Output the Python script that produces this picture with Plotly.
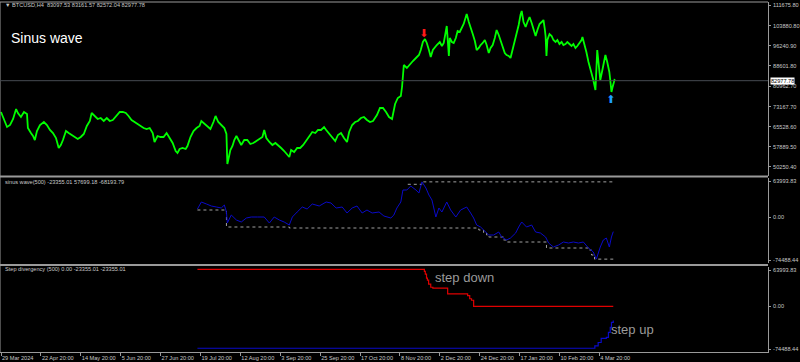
import plotly.graph_objects as go

# ---------------- data ----------------
tick_bars = [0, 132, 264, 396, 528, 660, 792, 924, 1056, 1188, 1320, 1452, 1584, 1716, 1848, 1980]
tick_labels = ["29 Mar 2024", "22 Apr 20:00", "14 May 20:00", "5 Jun 20:00", "27 Jun 20:00",
               "19 Jul 20:00", "12 Aug 20:00", "3 Sep 20:00", "25 Sep 20:00", "17 Oct 20:00",
               "8 Nov 20:00", "2 Dec 20:00", "24 Dec 20:00", "17 Jan 20:00", "10 Feb 20:00",
               "4 Mar 20:00"]

price_ticks = [111675.80, 103880.80, 96240.90, 88601.80, 80962.70, 73167.70, 65528.60, 57889.50, 50250.40]
ind_max = 63993.83
ind_min = -74488.44
ind_tick_labels = ["63993.83", "0.00", "-74488.44"]

price_bars = [0,13,20,30,40,50,56,66,76,86,
 89,99,106,112,119,129,142,152,162,172,
 182,191,198,205,215,224,234,244,254,264,
 274,284,294,300,310,320,330,340,350,360,
 370,383,393,403,413,422,432,442,452,462,
 472,482,492,502,508,518,528,538,548,558,
 568,578,584,591,601,611,617,627,637,647,
 657,663,673,683,693,703,710,719,729,739,
 746,749,752,759,766,772,779,789,795,805,
 815,825,835,845,855,865,871,878,888,898,
 908,917,927,937,947,954,960,970,980,990,
 1000,1010,1020,1030,1040,1049,1059,1069,1076,1086,
 1096,1106,1115,1125,1135,1145,1152,1162,1172,1181,
 1191,1201,1211,1221,1231,1244,1254,1264,1274,1284,
 1294,1304,1313,1323,1327,1333,1343,1353,1363,1373,
 1383,1389,1396,1403,1409,1416,1422,1429,1436,1442,
 1452,1459,1465,1472,1475,1482,1485,1492,1498,1505,
 1511,1518,1525,1531,1538,1541,1548,1554,1561,1568,
 1574,1581,1587,1594,1601,1607,1614,1620,1627,1634,
 1640,1647,1653,1660,1667,1673,1680,1686,1693,1700,
 1706,1713,1719,1723,1729,1736,1742,1749,1756,1762,
 1769,1775,1782,1789,1795,1799,1802,1805,1808,1815,
 1822,1828,1835,1841,1848,1855,1861,1868,1874,1881,
 1888,1894,1901,1907,1914,1921,1924,1931,1937,1944,
 1950,1957,1960,1967,1970,1973,1977,1983,1990,1997,
 2000,2006,2013,2016,2020,2023,2030,2033]

price_vals = [71100,67310,65410,66170,68450,72240,70720,69210,71100,70340,
 65030,63140,62000,60480,63900,66170,67310,66170,64280,63140,
 61240,57450,58590,60480,63900,63140,62380,61620,60860,61620,
 62760,65790,67690,70720,69590,68450,68830,67690,68830,67690,
 68070,69960,71100,71100,70720,69590,68070,67310,66550,65790,
 65030,64660,65030,63140,59730,62000,61620,61620,63140,61240,
 59350,56310,55550,57070,57450,57070,58210,61620,63900,65030,
 65790,67690,66550,65790,64660,67310,69590,67310,66170,65030,
 62760,51380,52900,56690,58210,60480,62000,60100,58590,60480,
 60480,58970,59350,60100,60860,61620,64280,61240,59730,58590,
 59350,58590,57450,56310,54800,54040,56690,55930,57450,57450,
 58590,60100,62000,63520,63140,64280,64280,65410,64280,62760,
 61240,60100,62380,63140,61240,59730,63520,66170,67310,67690,
 68830,69210,68070,67310,67690,69960,72620,72620,71100,69210,
 68450,74140,76410,77170,80580,88920,87790,89300,90440,91580,
 92720,94610,97650,98780,97270,94610,91960,94610,95750,96510,
 97650,96130,97270,102200,103710,92340,99160,97650,97270,99160,
 101820,101440,102950,104470,107130,108260,105230,103330,100680,98030,
 94610,95370,96510,97270,98400,96510,93470,95370,96510,99160,
 102200,100300,98400,95370,93470,92720,92340,91580,94610,98400,
 100300,104090,107880,109400,105230,103330,105230,107130,104850,102950,
 99920,102200,104470,105230,105990,102950,99920,92340,98400,100680,
 99920,98400,97650,98400,96890,97650,96510,96890,97650,96890,
 96130,96890,95370,96130,97270,98400,99540,96890,93850,90060,
 87790,85130,83240,79440,90060,94610,90060,83240,87030,90820,
 92720,90060,86270,83240,78690,80200,83240,82978]

last_price = 82977.78
sell_bars = [1399]
sell_prices = [100680]
buy_bars = [2018]
buy_prices = [75650]

sinus_bars = [650,663,680,696,713,729,739,746,749,762,779,795,812,828,848,871,888,904,921,937,
 954,964,980,997,1013,1030,1053,1076,1092,1109,1129,1145,1162,1178,1195,1211,1228,1251,1267,1290,
 1300,1310,1323,1330,1343,1356,1373,1383,1393,1406,1416,1426,1439,1449,1459,1475,1488,1505,1521,1541,
 1554,1564,1574,1587,1597,1614,1630,1647,1657,1673,1686,1703,1713,1723,1739,1756,1769,1785,1802,1812,
 1828,1845,1861,1878,1894,1911,1927,1944,1960,1970,1983,1993,2003,2013,2020,2026]
sinus_vals = [13490,24890,21640,18380,16750,15120,20010,8600,-9320,3710,-4430,-7690,-1170,460,460,460,-9320,460,-4430,-7690,
 -12580,460,8600,16750,13490,21640,18380,24890,23260,15120,16750,6970,15120,18380,6970,11860,6970,8600,2090,-1170,
 3710,15120,24890,44440,44440,50960,44440,39560,57699,47700,36300,28150,460,15120,8600,24890,11860,460,11860,16750,
 6970,-1170,-12580,-15840,-20720,-28870,-28870,-23980,-32130,-37020,-33760,-25610,-15840,-7690,-15840,-12580,-23980,-25610,-32130,-41900,
 -48420,-45160,-40270,-41900,-40270,-41900,-40270,-50050,-56570,-68190,-48420,-37020,-33760,-48420,-32130,-23355.01]

low_bars = [650, 746, 954, 1581, 1597, 1607, 1614, 1663, 1673, 1805, 1944, 1954, 1964, 2026]
low_vals = [11860, -15840, -17470, -20720, -25610, -28870, -32130, -37020, -40270, -50050, -53300, -61440, -68193.79, -68193.79]
high_bars = [1346, 1393, 2026]
high_vals = [53730, 57699.18, 57699.18]

down_bars = [650, 1401, 1404, 1408, 1411, 1415, 1422, 1429, 1478, 1544, 1551, 1557, 1564, 2026]
down_vals = [60150, 57000, 52450, 46000, 42610, 36060, 31000, 29500, 20160, 17210, 12290, 9830, 0.0, 0.0]
up_bars = [650, 1960, 1965, 1976, 1986, 2003, 2010, 2016, 2020, 2026]
up_vals = [-68350, -68350, -64410, -59000, -52450, -50810, -42610, -34420, -26220, -23355.01]

# ---------------- layout helpers ----------------
W, H = 800, 362
ML, MR, MT, MB = 0, 29, 2, 10
PW, PH = W - ML - MR, H - MT - MB


def fx(px):
    return (px - ML) / PW


def fy(py):
    return (H - MB - py) / PH


GRAY = "#9a9a9a"
TXT = "#c8c8c8"
SMALL = dict(family="Liberation Sans, Arial", size=5.6, color=TXT)

# indicator panels: max/min labels drawn just inside the panel edge (MetaTrader style)
ind_span = ind_max - ind_min
inset = ind_span * 3.0 / 85.0
ind_tick_pos = [ind_max - inset, 0.0, ind_min + inset]

fig = go.Figure()
fig.add_trace(go.Scatter(x=price_bars, y=price_vals, mode="lines",
                         line=dict(color="#00ff00", width=1.8), yaxis="y"))
fig.add_trace(go.Scatter(x=sell_bars, y=sell_prices, mode="text", text=["⬇"],
                         textfont=dict(color="#ff1a1a", size=11, family="DejaVu Sans"), yaxis="y"))
fig.add_trace(go.Scatter(x=buy_bars, y=buy_prices, mode="text", text=["⬆"],
                         textfont=dict(color="#1ea0ff", size=11, family="DejaVu Sans"), yaxis="y"))

fig.add_trace(go.Scatter(x=low_bars, y=low_vals, mode="lines", line_shape="hv",
                         line=dict(color="#a0a0a0", width=1, dash="dot"), yaxis="y2"))
fig.add_trace(go.Scatter(x=high_bars, y=high_vals, mode="lines", line_shape="hv",
                         line=dict(color="#a0a0a0", width=1, dash="dot"), yaxis="y2"))
fig.add_trace(go.Scatter(x=sinus_bars, y=sinus_vals, mode="lines",
                         line=dict(color="#0a0ac8", width=1), yaxis="y2"))

fig.add_trace(go.Scatter(x=down_bars, y=down_vals, mode="lines", line_shape="hv",
                         line=dict(color="#e00000", width=1.2), yaxis="y3"))
fig.add_trace(go.Scatter(x=up_bars, y=up_vals, mode="lines", line_shape="hv",
                         line=dict(color="#0a0ac8", width=1.2), yaxis="y3"))

yax_common = dict(side="right", anchor="x", showgrid=False, zeroline=False,
                  showline=True, linecolor=GRAY, linewidth=1, ticks="outside", ticklen=2,
                  tickcolor=GRAY, tickfont=SMALL, ticklabelstandoff=1)

fig.update_layout(
    width=W, height=H,
    margin=dict(l=ML, r=MR, t=MT, b=MB),
    paper_bgcolor="#000000", plot_bgcolor="#000000",
    showlegend=False,
    xaxis=dict(domain=[0, 1], range=[-3.3, 2538], anchor="y3", showgrid=False, zeroline=False,
               showline=True, linecolor=GRAY, tickvals=tick_bars, ticktext=tick_labels,
               tickangle=0, ticks="outside", ticklen=3, tickcolor=GRAY, tickfont=SMALL,
               ticklabelposition="outside right", ticklabelstandoff=0),
    yaxis=dict(domain=[fy(175.5), 1], range=[47022, 112814], tickvals=price_ticks,
               ticktext=[f"{v:.2f}" for v in price_ticks], **yax_common),
    yaxis2=dict(domain=[fy(263), fy(178)], range=[ind_min, ind_max], tickvals=ind_tick_pos,
                ticktext=ind_tick_labels, **yax_common),
    yaxis3=dict(domain=[0, fy(267)], range=[ind_min, ind_max], tickvals=ind_tick_pos,
                ticktext=ind_tick_labels, **yax_common),
)

shapes = [
    dict(type="line", xref="paper", yref="paper", x0=0, x1=1, y0=fy(176.5), y1=fy(176.5),
         line=dict(color=GRAY, width=2)),
    dict(type="line", xref="paper", yref="paper", x0=0, x1=1, y0=fy(265), y1=fy(265),
         line=dict(color=GRAY, width=2)),
    dict(type="line", xref="paper", yref="paper", x0=0, x1=1, y0=1, y1=1,
         line=dict(color=GRAY, width=1)),
    dict(type="line", xref="paper", yref="paper", x0=0, x1=0, y0=0, y1=1,
         line=dict(color=GRAY, width=1)),
    dict(type="line", xref="paper", yref="y", x0=0, x1=1, y0=last_price, y1=last_price,
         line=dict(color="#454a52", width=1)),
]
fig.update_layout(shapes=shapes)

ann = [
    dict(x=fx(3), y=fy(5), xref="paper", yref="paper", xanchor="left", yanchor="middle",
         text="▼ BTCUSD,H4  83097.53 83161.57 82572.04 82977.78", showarrow=False, font=SMALL),
    dict(x=fx(3), y=fy(182), xref="paper", yref="paper", xanchor="left", yanchor="middle",
         text="sinus wave(500) -23355.01 57699.18 -68193.79", showarrow=False, font=SMALL),
    dict(x=fx(3), y=fy(269), xref="paper", yref="paper", xanchor="left", yanchor="middle",
         text="Step divergency (500) 0.00 -23355.01 -23355.01", showarrow=False, font=SMALL),
    dict(x=fx(9), y=fy(38), xref="paper", yref="paper", xanchor="left", yanchor="middle",
         text="Sinus wave", showarrow=False,
         font=dict(family="Liberation Sans, Arial", size=14, color="#ffffff")),
    dict(x=fx(435), y=fy(277), xref="paper", yref="paper", xanchor="left", yanchor="middle",
         text="step down", showarrow=False,
         font=dict(family="Liberation Sans, Arial", size=13, color="#9a9a9a")),
    dict(x=fx(611), y=fy(329), xref="paper", yref="paper", xanchor="left", yanchor="middle",
         text="step up", showarrow=False,
         font=dict(family="Liberation Sans, Arial", size=13, color="#9a9a9a")),
    dict(x=1, y=last_price, xref="paper", yref="y", xanchor="left", yanchor="middle", xshift=2,
         text=f"{last_price:.2f}", showarrow=False, bgcolor="#ffffff", borderpad=0,
         font=dict(family="Liberation Sans, Arial", size=5.6, color="#000000")),
]
fig.update_layout(annotations=ann)

fig.write_html("out.html")
